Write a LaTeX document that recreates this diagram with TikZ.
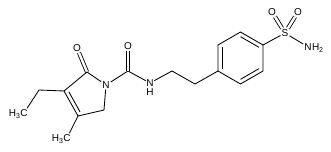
\documentclass[tikz,border=0pt]{standalone}
\usepackage{fontspec}
\setmainfont{Liberation Sans}
\usetikzlibrary{calc}
\newcommand\chemsub[1]{\raisebox{-0.35ex}{\fontsize{7}{7}\selectfont #1}}
\begin{document}
\begin{tikzpicture}[x=1pt,y=-1pt,
  bond/.style={line width=0.85pt},
  dbl/.style={line width=0.85pt,double,double distance=2.4pt},
  atom/.style={inner sep=1pt,font=\fontsize{10}{10}\selectfont},
  sideatom/.style={inner sep=0pt,font=\fontsize{10}{10}\selectfont}]
\useasboundingbox (0,0) rectangle (331,152);
% five-membered ring
\node[atom] (o1) at (77,48) {O};
\coordinate (c2) at (87,72);
\node[atom] (n1) at (106,85) {N};
\coordinate (c5) at (104,110);
\coordinate (c4) at (78,116);
\coordinate (c3) at (64,91);
\coordinate (pc) at (88,95);
\coordinate (ce) at (39,90);
\node[atom] (me1) at (24,113) {C};
\node[sideatom,anchor=base east] (me1h) at ([xshift=1pt]me1.base west) {H\chemsub{3}};
\node[atom] (me2) at (67,138) {C};
\node[sideatom,anchor=base east] (me2h) at ([xshift=1pt]me2.base west) {H\chemsub{3}};
% amide
\coordinate (ca) at (128,71);
\node[atom] (o2) at (128,46) {O};
\node[atom,inner sep=0.5pt] (n2) at (150,83) {N};
\node[sideatom,anchor=north] (n2h) at ([yshift=-0.8pt]n2.south) {H};
\coordinate (cb) at (172,71);
\coordinate (cc) at (195,84);
% benzene
\coordinate (r1) at (218,71);
\coordinate (r2) at (218,45);
\coordinate (r3) at (240.5,32);
\coordinate (r4) at (263,45);
\coordinate (r5) at (263,71);
\coordinate (r6) at (240.5,84);
\coordinate (rc) at (240.5,58);
% sulfonamide
\node[atom] (s) at (285,33) {S};
\node[atom] (o3) at (272,12) {O};
\node[atom] (o4) at (298,12) {O};
\node[atom] (n3) at (308,47) {N};
\node[sideatom,anchor=base west] (n3h) at ([xshift=-1pt]n3.base east) {H\chemsub{2}};
% bonds
\draw[dbl] (o1) -- (c2);
\draw[bond] (c2) -- (n1) -- (c5) -- (c4) -- (c3) -- (c2);
\draw[bond] ($(c3)!0.2!(pc)$) -- ($(c4)!0.2!(pc)$);
\draw[bond] (c3) -- (ce) -- (me1);
\draw[bond] (c4) -- (me2);
\draw[bond] (n1) -- (ca) -- (n2) -- (cb) -- (cc) -- (r1);
\draw[dbl] (ca) -- (o2);
\draw[bond] (r1) -- (r2) -- (r3) -- (r4) -- (r5) -- (r6) -- cycle;
\draw[bond] ($(r1)!0.18!(rc)$) -- ($(r2)!0.18!(rc)$);
\draw[bond] ($(r3)!0.18!(rc)$) -- ($(r4)!0.18!(rc)$);
\draw[bond] ($(r5)!0.18!(rc)$) -- ($(r6)!0.18!(rc)$);
\draw[bond] (r4) -- (s) -- (n3);
\draw[dbl] (s) -- (o3);
\draw[dbl] (s) -- (o4);
\end{tikzpicture}
\end{document}
